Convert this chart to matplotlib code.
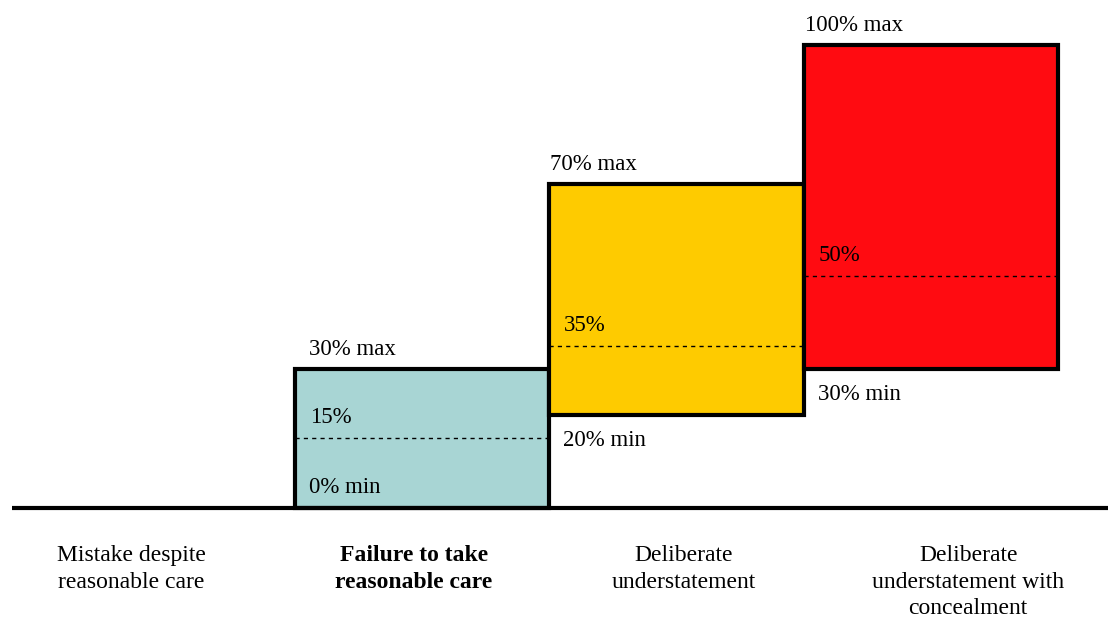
import matplotlib
matplotlib.use('Agg')
import matplotlib.pyplot as plt

# penalty ranges (% of potential lost revenue)
categories = ["Mistake despite\nreasonable care",
              "Failure to take\nreasonable care",
              "Deliberate\nunderstatement",
              "Deliberate\nunderstatement with\nconcealment"]
minVals = [None, 0, 20, 30]
midVals = [None, 15, 35, 50]
maxVals = [None, 30, 70, 100]
colours = [None, '#A8D5D4', '#FECB00', '#FF0B11']

plt.rcParams['font.family'] = ['Liberation Serif', 'DejaVu Serif']
fs = 16.5

fig = plt.figure(figsize=(11.08, 6.19), dpi=100)
ax = fig.add_axes([0, 0, 1, 1])
ax.set_xlim(-0.160, 4.197)
ax.set_ylim(-24.0, 109.7)
ax.axis('off')

# baseline
ax.plot([-0.113, 4.197], [0, 0], color='black', lw=3, solid_capstyle='butt', zorder=5)

for i in range(len(categories)):
    if maxVals[i] is None:
        continue
    ax.bar(i, maxVals[i] - minVals[i], bottom=minVals[i], width=1, align='edge',
           color=colours[i], edgecolor='black', linewidth=3, zorder=3)
    ax.hlines(midVals[i], i, i + 1, colors='black', linewidth=1,
              linestyles=(0, (3, 3)), zorder=4)
    dx = 14 if i == 1 else 1
    ax.annotate("%d%% max" % maxVals[i], xy=(i, maxVals[i]), xytext=(dx, 14),
                textcoords='offset pixels', fontsize=fs, va='baseline', ha='left')
    ax.annotate("%d%%" % midVals[i], xy=(i, midVals[i]), xytext=(15, 15),
                textcoords='offset pixels', fontsize=fs, va='baseline', ha='left', zorder=6)
    dy = 15 if minVals[i] == 0 else -31
    ax.annotate("%d%% min" % minVals[i], xy=(i, minVals[i]), xytext=(14, dy),
                textcoords='offset pixels', fontsize=fs, va='baseline', ha='left', zorder=6)

# category labels under the baseline
labelX = [0.355, 1.468, 2.530, 3.647]
for i, cat in enumerate(categories):
    ax.text(labelX[i], -8.0, cat, ha='center', va='top', fontsize=17,
            fontweight='bold' if i == 1 else 'normal', linespacing=1.36)

fig.savefig('out.png', dpi=100)
